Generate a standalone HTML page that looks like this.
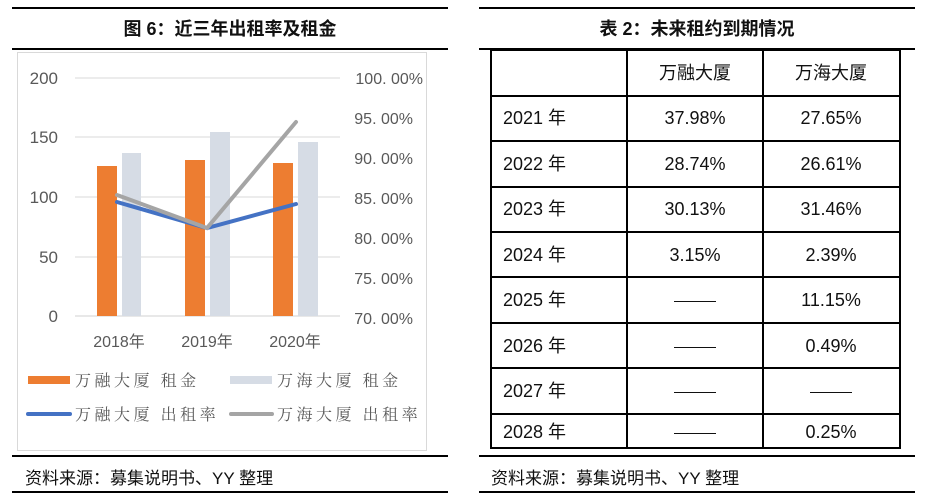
<!DOCTYPE html>
<html><head><meta charset="utf-8"><style>
body{margin:0;width:929px;height:499px;background:#fff;position:relative;overflow:hidden;font-family:"Liberation Sans","Noto Sans CJK SC",sans-serif;color:#111}
.a{position:absolute}
.rule{position:absolute;height:2px;background:#000}
.title{position:absolute;font-weight:bold;font-size:18px;text-align:center}
.src{position:absolute;font-size:17px}
.c{position:absolute;font-size:18px;line-height:20px;white-space:nowrap}
.m{text-align:center;width:134px}
.d{display:inline-block;width:42px;height:1.5px;background:#111;vertical-align:middle}
</style></head><body>
<div class="rule" style="left:12px;top:7px;width:436px"></div>
<div class="title" style="left:12px;top:15px;width:436px">图 6：近三年出租率及租金</div>
<div class="rule" style="left:12px;top:48px;width:436px"></div>
<svg class="a" style="left:0;top:0" width="460" height="499">
<rect x="17.5" y="52.5" width="409" height="398" fill="none" stroke="#d9d9d9"/>
<g stroke="#d9d9d9" stroke-width="1"><line x1="75" x2="340" y1="78" y2="78"/><line x1="75" x2="340" y1="137" y2="137"/><line x1="75" x2="340" y1="197" y2="197"/><line x1="75" x2="340" y1="257" y2="257"/><line x1="75" x2="340" y1="316" y2="316" stroke="#d0d0d0"/></g>
<g fill="#ed7d31"><rect x="97" y="166" width="20" height="150"/><rect x="185" y="160" width="20" height="156"/><rect x="273" y="163" width="20" height="153"/></g>
<g fill="#d6dce5"><rect x="122" y="153" width="19" height="163"/><rect x="210" y="132" width="20" height="184"/><rect x="298" y="142" width="20" height="174"/></g>
<polyline points="117,202 207,228 296,204" fill="none" stroke="#4472c4" stroke-width="4" stroke-linecap="round"/>
<polyline points="117,195 207,228 296,122" fill="none" stroke="#a5a5a5" stroke-width="4" stroke-linecap="round"/>
<g font-family="Liberation Sans, sans-serif" font-size="17" fill="#595959" text-anchor="end"><text x="58" y="84">200</text><text x="58" y="143">150</text><text x="58" y="203">100</text><text x="58" y="263">50</text><text x="58" y="322">0</text></g>
<g font-family="Liberation Sans, sans-serif" font-size="16" fill="#595959" text-anchor="end"><text x="423" y="84">100.  00%</text><text x="413" y="124">95.  00%</text><text x="413" y="164">90.  00%</text><text x="413" y="204">85.  00%</text><text x="413" y="244">80.  00%</text><text x="413" y="284">75.  00%</text><text x="413" y="324">70.  00%</text></g>
<g font-family="Liberation Sans, Noto Sans CJK SC, sans-serif" font-size="16" fill="#595959" text-anchor="middle"><text x="119" y="347">2018年</text><text x="207" y="347">2019年</text><text x="295" y="347">2020年</text></g>
<rect x="28" y="376" width="42" height="8" fill="#ed7d31"/><rect x="230" y="376" width="42" height="8" fill="#d6dce5"/>
<line x1="28" x2="70" y1="414" y2="414" stroke="#4472c4" stroke-width="4" stroke-linecap="round"/><line x1="231" x2="272" y1="414" y2="414" stroke="#a5a5a5" stroke-width="4" stroke-linecap="round"/>
<g font-family="Noto Serif CJK SC, serif" font-size="16" fill="#595959" letter-spacing="3.5"><text x="75" y="386">万融大厦 租金</text><text x="277" y="386">万海大厦 租金</text><text x="75" y="420">万融大厦 出租率</text><text x="277" y="420">万海大厦 出租率</text></g>
</svg>
<div class="rule" style="left:12px;top:455px;width:436px"></div>
<div class="src" style="left:25px;top:464px">资料来源：募集说明书、YY 整理</div>
<div class="rule" style="left:12px;top:491px;width:436px"></div>

<div class="rule" style="left:479px;top:7px;width:436px"></div>
<div class="title" style="left:479px;top:15px;width:436px">表 2：未来租约到期情况</div>
<div class="rule" style="left:479px;top:48px;width:436px"></div>
<svg class="a" style="left:0;top:0" width="929" height="499">
<g stroke="#000" stroke-width="2" fill="none">
<rect x="491" y="50" width="409" height="398"/>
<line x1="627" x2="627" y1="50" y2="448"/><line x1="763" x2="763" y1="50" y2="448"/>
<line x1="491" x2="900" y1="96" y2="96"/><line x1="491" x2="900" y1="141" y2="141"/><line x1="491" x2="900" y1="187" y2="187"/><line x1="491" x2="900" y1="232" y2="232"/><line x1="491" x2="900" y1="277" y2="277"/><line x1="491" x2="900" y1="323" y2="323"/><line x1="491" x2="900" y1="368" y2="368"/><line x1="491" x2="900" y1="414" y2="414"/>
</g></svg>
<div class="c m" style="left:628px;top:63px">万融大厦</div><div class="c m" style="left:764px;top:63px">万海大厦</div>
<div class="c" style="left:503px;top:108px">2021 年</div><div class="c m" style="left:628px;top:108px">37.98%</div><div class="c m" style="left:764px;top:108px">27.65%</div>
<div class="c" style="left:503px;top:154px">2022 年</div><div class="c m" style="left:628px;top:154px">28.74%</div><div class="c m" style="left:764px;top:154px">26.61%</div>
<div class="c" style="left:503px;top:199px">2023 年</div><div class="c m" style="left:628px;top:199px">30.13%</div><div class="c m" style="left:764px;top:199px">31.46%</div>
<div class="c" style="left:503px;top:245px">2024 年</div><div class="c m" style="left:628px;top:245px">3.15%</div><div class="c m" style="left:764px;top:245px">2.39%</div>
<div class="c" style="left:503px;top:290px">2025 年</div><div class="c m" style="left:628px;top:290px"><span class="d"></span></div><div class="c m" style="left:764px;top:290px">11.15%</div>
<div class="c" style="left:503px;top:336px">2026 年</div><div class="c m" style="left:628px;top:336px"><span class="d"></span></div><div class="c m" style="left:764px;top:336px">0.49%</div>
<div class="c" style="left:503px;top:381px">2027 年</div><div class="c m" style="left:628px;top:381px"><span class="d"></span></div><div class="c m" style="left:764px;top:381px"><span class="d"></span></div>
<div class="c" style="left:503px;top:422px">2028 年</div><div class="c m" style="left:628px;top:422px"><span class="d"></span></div><div class="c m" style="left:764px;top:422px">0.25%</div>
<div class="rule" style="left:479px;top:455px;width:436px"></div>
<div class="src" style="left:491px;top:464px">资料来源：募集说明书、YY 整理</div>
<div class="rule" style="left:479px;top:491px;width:436px"></div>
</body></html>
